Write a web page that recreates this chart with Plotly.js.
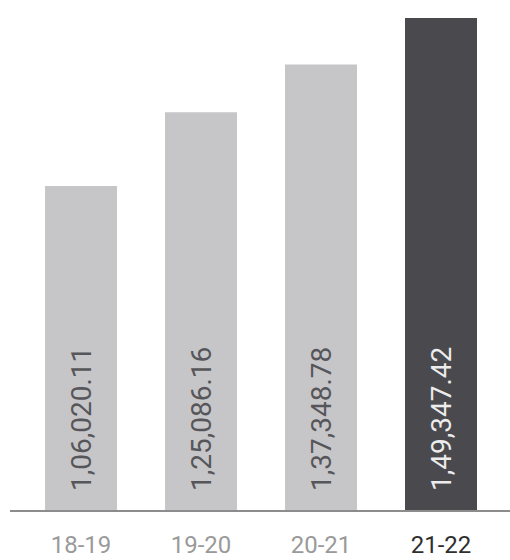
<!DOCTYPE html>
<html>
<head>
<meta charset="utf-8">
<script src="https://cdn.plot.ly/plotly-3.0.1.min.js"></script>
<style>html,body{margin:0;padding:0;background:#fff}#chart{width:510px;height:560px}</style>
</head>
<body>
<div id="chart"></div>
<script>
// Data
const categories = ['18-19', '19-20', '20-21', '21-22'];
const values = [106020.11, 125086.16, 137348.78, 149347.42];
const tickLabels = ['18-19', '19-20', '20-21', '21-22'];

// Styles
const barColors = ['#c6c6c9', '#c6c6c9', '#c6c6c9', '#4a494e'];
const textColors = ['#56565a', '#56565a', '#56565a', '#ececec'];
const tickColors = ['#9a9a9a', '#9a9a9a', '#9a9a9a', '#2f2f2f'];

function fmtIndian(v) {
  const parts = v.toFixed(2).split('.');
  let s = parts[0];
  let last3 = s.slice(-3);
  let rest = s.slice(0, -3);
  if (rest) {
    rest = rest.replace(/\B(?=(\d{2})+(?!\d))/g, ',');
    s = rest + ',' + last3;
  } else s = last3;
  return s + '.' + parts[1];
}

const trace = {
  type: 'bar',
  x: categories,
  y: values,
  marker: { color: barColors, line: { width: 0 } },
  hoverinfo: 'skip'
};

const annotations = categories.map((c, i) => ({
  x: c, xref: 'x',
  y: 0, yref: 'paper',
  yanchor: 'bottom', xanchor: 'center',
  yshift: 17,
  textangle: -90,
  text: fmtIndian(values[i]),
  showarrow: false,
  font: { family: 'Roboto, sans-serif', size: 28, color: textColors[i] }
}));

const layout = {
  width: 510, height: 560,
  margin: { l: 10, r: 0, t: 0, b: 50 },
  paper_bgcolor: '#fff', plot_bgcolor: '#fff',
  bargap: 0.4,
  showlegend: false,
  font: { family: 'Roboto, sans-serif' },
  xaxis: {
    type: 'category',
    range: [-0.592, 3.575],
    tickvals: categories,
    ticktext: tickLabels.map((t, i) => '<span style="color:' + tickColors[i] + '">' + t + '</span>'),
    tickfont: { family: 'Roboto, sans-serif', size: 24, color: '#9a9a9a' },
    ticks: '',
    ticklabelstandoff: 13,
    showline: true, linecolor: '#8c8c8c', linewidth: 1.5,
    showgrid: false, zeroline: false, fixedrange: true
  },
  yaxis: {
    range: [22500, 154000],
    visible: false, showgrid: false, zeroline: false, fixedrange: true
  },
  annotations: annotations
};

Plotly.newPlot('chart', [trace], layout, { displayModeBar: false, staticPlot: true });
</script>
</body>
</html>
